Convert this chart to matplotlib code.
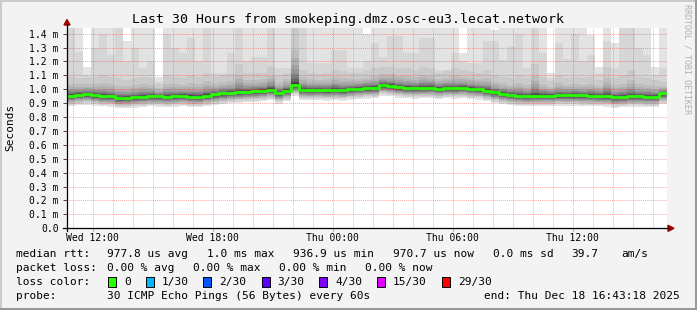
import datetime as dt
import numpy as np
import matplotlib
matplotlib.use("Agg")
import matplotlib.pyplot as plt
import matplotlib.dates as mdates
from matplotlib.patches import Rectangle, Polygon
from matplotlib.lines import Line2D

W, H = 697, 310
MONO = "DejaVu Sans Mono"

# values, one per 24 min column (75 columns = 30 h), in ms
median = [0.955, 0.962, 0.965, 0.958, 0.952, 0.950, 0.937, 0.940, 0.943, 0.948,
          0.952, 0.950, 0.946, 0.950, 0.954, 0.948, 0.947, 0.955, 0.963, 0.970,
          0.975, 0.978, 0.982, 0.985, 0.990, 0.998, 0.972, 0.990, 1.030, 0.997,
          0.995, 0.997, 0.993, 0.996, 0.993, 1.000, 1.005, 1.008, 1.010, 1.030,
          1.025, 1.015, 1.010, 1.008, 1.010, 1.012, 1.005, 1.010, 1.008, 1.012,
          1.005, 1.000, 0.990, 0.978, 0.968, 0.960, 0.955, 0.952, 0.953, 0.955,
          0.955, 0.958, 0.957, 0.958, 0.956, 0.955, 0.952, 0.950, 0.942, 0.945,
          0.950, 0.950, 0.948, 0.948, 0.970]
ping_max = [1.45, 1.45, 1.16, 1.45, 1.45, 1.45, 1.45, 1.35, 1.45, 1.45,
            1.45, 1.09, 1.45, 1.45, 1.45, 1.45, 1.45, 1.45, 1.45, 1.45,
            1.45, 1.45, 1.45, 1.45, 1.45, 1.45, 1.45, 1.45, 1.45, 1.45,
            1.45, 1.45, 1.45, 1.45, 1.45, 1.45, 1.45, 1.40, 1.45, 1.45,
            1.45, 1.45, 1.45, 1.45, 1.45, 1.45, 1.45, 1.45, 1.45, 1.26,
            1.45, 1.45, 1.45, 1.43, 1.45, 1.45, 1.45, 1.45, 1.45, 1.45,
            1.12, 1.45, 1.45, 1.45, 1.45, 1.39, 1.16, 1.45, 1.33, 1.45,
            1.45, 1.45, 1.45, 1.16, 1.45]
ping_hi2 = [1.45, 1.27, 1.10, 1.30, 1.40, 1.25, 1.45, 1.20, 1.30, 1.15,
            1.20, 1.05, 1.40, 1.30, 1.26, 1.37, 1.20, 1.45, 1.12, 1.12,
            1.26, 1.45, 1.20, 1.23, 1.23, 1.45, 1.15, 1.15, 1.45, 1.45,
            1.19, 1.19, 1.19, 1.28, 1.28, 1.15, 1.15, 1.20, 1.33, 1.23,
            1.38, 1.38, 1.26, 1.26, 1.37, 1.37, 1.14, 1.14, 1.26, 1.20,
            1.19, 1.19, 1.35, 1.35, 1.21, 1.31, 1.40, 1.15, 1.45, 1.26,
            1.08, 1.33, 1.22, 1.40, 1.20, 1.25, 1.12, 1.35, 1.15, 1.45,
            1.45, 1.30, 1.25, 1.10, 1.15]
ping_hi3 = [1.09, 1.08, 1.08, 1.09, 1.10, 1.09, 1.08, 1.07, 1.08, 1.09, 1.08,
            1.04, 1.10, 1.09, 1.08, 1.10, 1.09, 1.12, 1.09, 1.10, 1.11,
            1.18, 1.12, 1.12, 1.12, 1.16, 1.10, 1.12,
            1.44,
            1.14, 1.12, 1.11, 1.12, 1.14, 1.13, 1.12, 1.12, 1.13, 1.15, 1.16, 1.16,
            1.15, 1.15, 1.14, 1.16, 1.15, 1.12, 1.13, 1.15, 1.14, 1.13, 1.12, 1.14,
            1.10, 1.09, 1.08, 1.10, 1.08, 1.18, 1.09, 1.06, 1.10, 1.08, 1.09, 1.08,
            1.09, 1.07, 1.16, 1.08, 1.10, 1.14, 1.09, 1.08, 1.07, 1.06]

# smoke spread: below-median offsets per grey layer, inner layer heights above median
low_off = [0.075, 0.066, 0.058, 0.051, 0.045, 0.040, 0.035, 0.030,
           0.026, 0.022, 0.018, 0.014, 0.010, 0.007, 0.003]
up_frac = [0.62, 0.47, 0.36, 0.28, 0.22, 0.17, 0.13, 0.10, 0.075, 0.05, 0.03, 0.015]

ytick_vals = [0.0, 0.1, 0.2, 0.3, 0.4, 0.5, 0.6, 0.7, 0.8, 0.9, 1.0, 1.1, 1.2, 1.3, 1.4]
ytick_labels = ["0.0"] + ["%.1f m" % v for v in ytick_vals[1:]]

loss_labels = ["0", "1/30", "2/30", "3/30", "4/30", "15/30", "29/30"]
loss_colors = ["#26ff00", "#00b8ff", "#0059ff", "#5e00ff", "#7e00ff", "#dd00ff", "#ff0000"]

start = dt.datetime(2025, 12, 17, 10, 43, 18)
end = start + dt.timedelta(hours=30)
edges = mdates.date2num([start + dt.timedelta(minutes=24 * i) for i in range(len(median) + 1)])


def ext(a):
    a = np.asarray(a, dtype=float)
    return np.append(a, a[-1])


def fx(x):
    return x / W


def fy(y):
    return 1 - y / H


fig = plt.figure(figsize=(W / 100, H / 100), dpi=100, facecolor="#f3f3f3")
ax = fig.add_axes([fx(67), fy(228.3), 600 / W, 200.3 / H], facecolor="white")

med = np.array(median)
hi3 = np.array(ping_hi3)
for k in range(15):
    g = int(190 / 15 * (15 - (k + 1))) + 50
    col = "#%02x%02x%02x" % (g, g, g)
    if k == 0:
        top = np.array(ping_max)
    elif k == 1:
        top = np.array(ping_hi2)
    elif k == 2:
        top = hi3
    else:
        top = med + up_frac[k - 3] * (hi3 - med)
    bot = med - low_off[k]
    ax.fill_between(edges, ext(bot), ext(top), step="post", color=col, lw=0, zorder=1)

# grid on top of the smoke
for v in ytick_vals[1:]:
    ax.axhline(v, color=(1, 0, 0, 0.35), lw=0.7, ls=(0, (1, 1)), zorder=3)
hours = mdates.date2num([dt.datetime(2025, 12, 17, 11) + dt.timedelta(hours=h) for h in range(30)])
for hx in hours:
    if mdates.num2date(hx).hour % 3 == 0:
        c = (1, 0, 0, 0.35)
    else:
        c = (0.5, 0.5, 0.5, 0.45)
    if hx < edges[-1]:
        ax.axvline(hx, color=c, lw=0.7, ls=(0, (1, 1)), zorder=3)

ax.step(edges, ext(median), where="post", color="#26ff00", lw=2.0, zorder=4)

ax.set_xlim(mdates.date2num(start), mdates.date2num(end))
ax.set_ylim(0, 1.441)
for s in ax.spines.values():
    s.set_visible(False)

ax.set_yticks(ytick_vals, ytick_labels)
ax.tick_params(axis="y", length=3, width=0.7, color="#444444", pad=3, labelsize=7)
for t in ax.get_yticklabels():
    t.set_family(MONO)

lab_ticks = mdates.date2num([dt.datetime(2025, 12, 17, 12) + dt.timedelta(hours=6 * i) for i in range(5)])
lab_text = ["Wed 12:00", "Wed 18:00", "Thu 00:00", "Thu 06:00", "Thu 12:00"]
ax.set_xticks(lab_ticks, lab_text)
ax.tick_params(axis="x", length=2, width=0.7, color=(1, 0, 0, 0.5), pad=1.2, labelsize=7)
for t in ax.get_xticklabels():
    t.set_family(MONO)

# axis lines with arrows
fig.add_artist(Line2D([fx(63), fx(668)], [fy(228.3), fy(228.3)], color="black", lw=0.9))
fig.add_artist(Line2D([fx(67), fx(67)], [fy(231), fy(24)], color="black", lw=0.9))
fig.add_artist(Polygon([[fx(64), fy(25)], [fx(70), fy(25)], [fx(67), fy(19.5)]],
                       closed=True, color="#990000", transform=fig.transFigure))
fig.add_artist(Polygon([[fx(668), fy(225.3)], [fx(668), fy(231.3)], [fx(674), fy(228.3)]],
                       closed=True, color="#990000", transform=fig.transFigure))


def ftext(x, y, s, size=8, ha="left", **kw):
    fig.text(fx(x), fy(y), s, fontsize=size, ha=ha, va="center", family=MONO, **kw)


ftext(348.5, 19, "Last 30 Hours from smokeping.dmz.osc-eu3.lecat.network", size=9.5, ha="center")
ftext(10, 127, "Seconds", size=8, ha="center", rotation=90)
ftext(687, 59, "RRDTOOL / TOBI OETIKER", size=6, ha="center", rotation=270, color="#b0b0b0")

ftext(16, 254, "median rtt:")
for x, s in [(107.3, "977.8 us avg"), (207.3, "1.0 ms max"), (293.3, "936.9 us min"),
             (393.3, "970.7 us now"), (493.3, "0.0 ms sd"), (571.7, "39.7"), (621.7, "am/s")]:
    ftext(x, 254, s)
ftext(16, 268, "packet loss:")
for x, s in [(107.3, "0.00 % avg"), (193.3, "0.00 % max"), (279.3, "0.00 % min"), (365, "0.00 % now")]:
    ftext(x, 268, s)
ftext(16, 282, "loss color:")
box_x = [108.3, 146, 203.3, 261.7, 319.3, 376.7, 442]
for bx, lab, c in zip(box_x, loss_labels, loss_colors):
    fig.add_artist(Rectangle((fx(bx), fy(286.5)), 8 / W, 9.5 / H, facecolor=c,
                             edgecolor="black", lw=0.7, transform=fig.transFigure))
    ftext(bx + 16, 282, lab)
ftext(16, 296, "probe:")
ftext(107.3, 296, "30 ICMP Echo Pings (56 Bytes) every 60s")
ftext(680, 296, "end: Thu Dec 18 16:43:18 2025", ha="right")

# 3d-ish border
fig.add_artist(Line2D([0, 1], [fy(0.5), fy(0.5)], color="#cbcbcb", lw=1.4))
fig.add_artist(Line2D([fx(0.5), fx(0.5)], [0, 1], color="#cbcbcb", lw=1.4))
fig.add_artist(Line2D([0, 1], [fy(308.5), fy(308.5)], color="#999999", lw=2.2))
fig.add_artist(Line2D([fx(695.5), fx(695.5)], [0, 1], color="#999999", lw=2.2))

fig.savefig("out.png", dpi=100, facecolor=fig.get_facecolor())
